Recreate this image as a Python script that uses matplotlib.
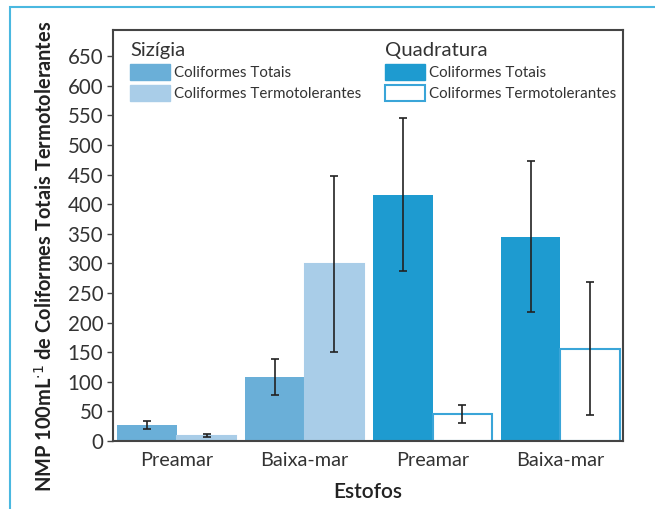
import matplotlib.pyplot as plt
import matplotlib.patches as mpatches
import numpy as np

plt.rcParams['font.family'] = ['Lato', 'DejaVu Sans']

estofos = ['Preamar', 'Baixa-mar', 'Preamar', 'Baixa-mar']
# Sizígia (first two groups) and Quadratura (last two groups)
totais = [27, 108, 416, 345]
totais_err = [6, 30, 129, 128]
termo = [9, 299, 45, 156]
termo_err = [2, 148, 15, 112]

c_siz_tot = '#6aafd8'
c_siz_ter = '#a9cde8'
c_qua_tot = '#1e9bd0'
c_qua_edge = '#3aa5d8'

fig = plt.figure(figsize=(6.55, 5.09), dpi=100)
ax = fig.add_axes([113/655, 1 - 441/509, 510/655, 411/509])

x = np.arange(len(estofos))
w = 0.465
tot_colors = [c_siz_tot, c_siz_tot, c_qua_tot, c_qua_tot]
ter_colors = [c_siz_ter, c_siz_ter, 'white', 'white']
ter_edges = [c_siz_ter, c_siz_ter, c_qua_edge, c_qua_edge]

ax.bar(x - w/2, totais, w, color=tot_colors, edgecolor=tot_colors, linewidth=0)
ax.bar(x + w/2, termo, w, color=ter_colors, edgecolor=ter_edges, linewidth=1.5)
ekw = dict(fmt='none', ecolor='#222222', elinewidth=1.2, capsize=3, capthick=1.2)
ax.errorbar(x - w/2, totais, yerr=totais_err, **ekw)
ax.errorbar(x + w/2, termo, yerr=termo_err, **ekw)

ax.set_xlim(-0.5, 3.49)
ax.set_ylim(0, 694)
ax.set_yticks(np.arange(0, 651, 50))
ax.set_xticks(x)
ax.set_xticklabels(estofos)
ax.tick_params(axis='y', labelsize=14.8, colors='#444444', labelcolor='#333333',
               length=4, width=1, pad=3)
ax.tick_params(axis='x', labelsize=14.3, labelcolor='#333333', length=0, pad=8)
for s in ax.spines.values():
    s.set_color('#444444')
    s.set_linewidth(1.5)

ax.set_ylabel('NMP 100mL$^{\\cdot1}$ de Coliformes Totais Termotolerantes',
              fontsize=14.4, fontweight='bold', color='#222222')
ax.yaxis.set_label_coords(-0.112, 0.45)
ax.set_xlabel('Estofos', fontsize=15, fontweight='semibold', color='#222222', labelpad=9)

lkw = dict(fontsize=10.9, title_fontsize=14.6, frameon=False, handlelength=2.6,
           handleheight=1.3, labelspacing=0.3, handletextpad=0.3,
           borderaxespad=0, alignment='left', labelcolor='#333333')
h1 = [mpatches.Patch(facecolor=c_siz_tot, edgecolor=c_siz_tot),
      mpatches.Patch(facecolor=c_siz_ter, edgecolor=c_siz_ter)]
h2 = [mpatches.Patch(facecolor=c_qua_tot, edgecolor=c_qua_tot),
      mpatches.Patch(facecolor='white', edgecolor=c_qua_edge, linewidth=1.5)]
labs = ['Coliformes Totais', 'Coliformes Termotolerantes']
leg1 = ax.legend(h1, labs, title='Sizígia', loc='upper left',
                 bbox_to_anchor=(0.022, 0.985), **lkw)
leg1.get_title().set_color('#333333')
ax.add_artist(leg1)
leg2 = ax.legend(h2, labs, title='Quadratura', loc='upper left',
                 bbox_to_anchor=(0.522, 0.985), **lkw)
leg2.get_title().set_color('#333333')

# light blue frame of the figure panel
frame = mpatches.Rectangle((10/655, -0.05), 1.2, 1 - 7/509 + 0.05, transform=fig.transFigure,
                           fill=False, edgecolor='#4ab8e0', linewidth=1.5)
fig.add_artist(frame)

fig.savefig('out.png', dpi=100)
